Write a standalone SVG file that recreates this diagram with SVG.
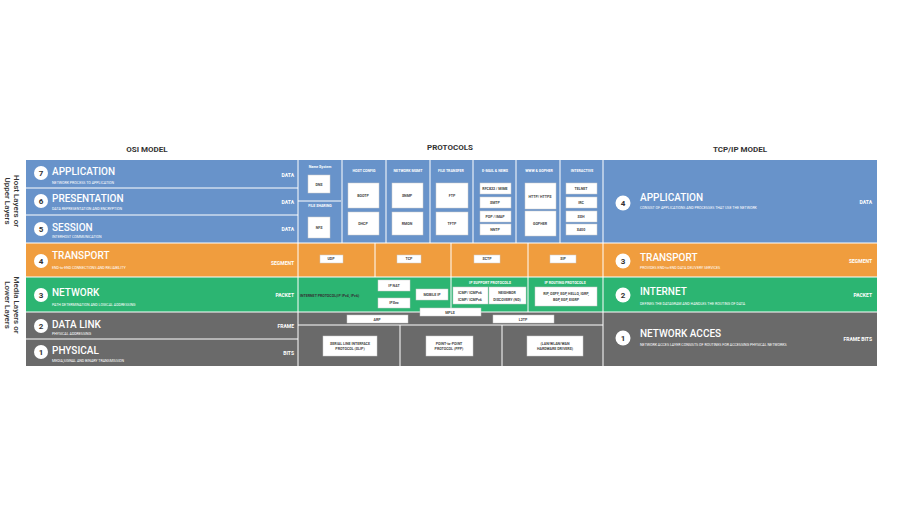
<svg xmlns="http://www.w3.org/2000/svg" width="900" height="512" viewBox="0 0 900 512">
<style>
text{font-family:Roboto,"Liberation Sans",sans-serif}
.h{font-size:8px;font-weight:bold;fill:#333;text-anchor:middle}
.t{font-size:10px;fill:#fff;font-weight:500}
.d{font-size:3.6px;fill:#fff}
.u{font-size:5px;fill:#fff;text-anchor:end;font-weight:bold}
.n{font-size:8px;font-weight:bold;fill:#333;text-anchor:middle}
.bx{fill:#fff;stroke:#ccc;stroke-width:0.5}
.bt{font-size:3.6px;fill:#444;text-anchor:middle;font-weight:bold}
.ch{font-size:3.6px;fill:#fff;text-anchor:middle;font-weight:bold}
.sep{stroke:#fff;stroke-width:1}
.side{font-size:8px;fill:#333;font-weight:500;text-anchor:middle}
</style>
<rect width="900" height="512" fill="#fff"/>
<text class="h" x="147" y="152">OSI MODEL</text>
<text class="h" x="450" y="150">PROTOCOLS</text>
<text class="h" x="740" y="152">TCP/IP MODEL</text>
<text class="side" transform="translate(14,201) rotate(90)">Host Layers or</text>
<text class="side" transform="translate(5,201) rotate(90)">Upper Layers</text>
<text class="side" transform="translate(14,305) rotate(90)">Media Layers or</text>
<text class="side" transform="translate(5,305) rotate(90)">Lower Layers</text>
<g id="bands">
<rect x="26" y="160" width="851" height="83" fill="#6893ca"/>
<rect x="26" y="243" width="851" height="34" fill="#f09d3e"/>
<rect x="26" y="277" width="851" height="35" fill="#2cb572"/>
<rect x="26" y="312" width="851" height="54" fill="#6a6a6a"/>
<g class="sep">
<line x1="26" y1="188" x2="298" y2="188"/><line x1="26" y1="215" x2="298" y2="215"/>
<line x1="26" y1="243" x2="877" y2="243"/><line x1="26" y1="277" x2="877" y2="277"/>
<line x1="26" y1="312" x2="877" y2="312"/><line x1="26" y1="339" x2="298" y2="339"/>
<line x1="298" y1="325" x2="603" y2="325"/>
<line x1="298" y1="160" x2="298" y2="366"/><line x1="603" y1="160" x2="603" y2="366"/>
<line x1="298" y1="201" x2="341" y2="201"/>
<line x1="342" y1="160" x2="342" y2="243"/><line x1="386" y1="160" x2="386" y2="243"/>
<line x1="430" y1="160" x2="430" y2="243"/><line x1="473" y1="160" x2="473" y2="243"/>
<line x1="516" y1="160" x2="516" y2="243"/><line x1="560" y1="160" x2="560" y2="243"/>
<line x1="375" y1="243" x2="375" y2="277"/><line x1="451" y1="243" x2="451" y2="312"/>
<line x1="528" y1="243" x2="528" y2="312"/>
<line x1="400" y1="325" x2="400" y2="366"/><line x1="502" y1="325" x2="502" y2="366"/>
</g>
</g>
<g id="osi">
<g fill="#fff"><circle cx="41" cy="173" r="7"/><circle cx="41" cy="201" r="7"/><circle cx="41" cy="229" r="7"/><circle cx="41" cy="261" r="7"/><circle cx="41" cy="295" r="7"/><circle cx="41" cy="326" r="7"/><circle cx="41" cy="352" r="7"/></g>
<g class="n"><text x="41" y="176">7</text><text x="41" y="204">6</text><text x="41" y="232">5</text><text x="41" y="264">4</text><text x="41" y="298">3</text><text x="41" y="329">2</text><text x="41" y="355">1</text></g>
<text class="t" x="52" y="175">APPLICATION</text><text class="d" x="52" y="184">NETWORK PROCESS TO APPLICATION</text><text class="u" x="294" y="177">DATA</text>
<text class="t" x="52" y="202">PRESENTATION</text><text class="d" x="52" y="210">DATA REPRESENTATION AND ENCRYPTION</text><text class="u" x="294" y="204">DATA</text>
<text class="t" x="52" y="231">SESSION</text><text class="d" x="52" y="238">INTERHOST COMMUNICATION</text><text class="u" x="294" y="231">DATA</text>
<text class="t" x="52" y="259">TRANSPORT</text><text class="d" x="52" y="269">END-to-END CONNECTIONS AND RELIABILITY</text><text class="u" x="294" y="265">SEGMENT</text>
<text class="t" x="52" y="296">NETWORK</text><text class="d" x="52" y="306">PATH DETERMINATION AND LOGICAL ADDRESSING</text><text class="u" x="294" y="297">PACKET</text>
<text class="t" x="52" y="328">DATA LINK</text><text class="d" x="52" y="335">PHYSICAL ADDRESSING</text><text class="u" x="294" y="328">FRAME</text>
<text class="t" x="52" y="354">PHYSICAL</text><text class="d" x="52" y="362">MEDIA,SIGNAL AND BINARY TRANSMISSION</text><text class="u" x="294" y="355">BITS</text>
</g>
<g id="tcpip">
<g fill="#fff"><circle cx="623" cy="203" r="7.5"/><circle cx="623" cy="261" r="7.5"/><circle cx="623" cy="295" r="7.5"/><circle cx="623" cy="338" r="7.5"/></g>
<g class="n"><text x="623" y="206">4</text><text x="623" y="264">3</text><text x="623" y="298">2</text><text x="623" y="341">1</text></g>
<text class="t" x="640" y="201">APPLICATION</text><text class="d" x="640" y="209">CONSIST OF APPLICATIONS AND PROCESSES THAT USE THE NETWORK</text><text class="u" x="872" y="204">DATA</text>
<text class="t" x="640" y="261">TRANSPORT</text><text class="d" x="640" y="269">PROVIDES END-to-END DATA DELIVERY SERVICES</text><text class="u" x="872" y="263">SEGMENT</text>
<text class="t" x="640" y="295">INTERNET</text><text class="d" x="640" y="305">DEFINES THE DATAGRAM AND HANDLES THE ROUTING OF DATA</text><text class="u" x="872" y="297">PACKET</text>
<text class="t" x="640" y="337">NETWORK ACCES</text><text class="d" x="640" y="346">NETWORK ACCES LAYER CONSISTS OF ROUTINES FOR ACCESSING PHYSICAL NETWORKS</text><text class="u" x="872" y="341">FRAME BITS</text>
</g>
<g id="protocols">
<g class="ch"><text x="320" y="168">Name System</text><text x="320" y="207">FILE SHARING</text><text x="364" y="172">HOST CONFIG</text><text x="408" y="172">NETWORK MGMT</text><text x="451" y="172">FILE TRANSFER</text><text x="495" y="172">E-MAIL &amp; NEWS</text><text x="539" y="172">WWW &amp; GOPHER</text><text x="582" y="172">INTERACTIVE</text>
<text x="490" y="284">IP SUPPORT PROTOCOLS</text><text x="565" y="284">IP ROUTING PROTOCOLS</text></g>
<g class="bx">
<rect x="308" y="175" width="22" height="18"/><rect x="308" y="217" width="22" height="21"/>
<rect x="348" y="183" width="31" height="25"/><rect x="348" y="212" width="31" height="23"/>
<rect x="392" y="183" width="31" height="25"/><rect x="392" y="212" width="31" height="23"/>
<rect x="436" y="183" width="32" height="25"/><rect x="436" y="212" width="32" height="23"/>
<rect x="480" y="183" width="31" height="11"/><rect x="480" y="197" width="31" height="11"/><rect x="480" y="211" width="31" height="11"/><rect x="480" y="224" width="31" height="11"/>
<rect x="525" y="183" width="31" height="26"/><rect x="525" y="211" width="31" height="25"/>
<rect x="566" y="183" width="31" height="11"/><rect x="566" y="197" width="31" height="11"/><rect x="566" y="211" width="31" height="11"/><rect x="566" y="224" width="31" height="11"/>
<rect x="320" y="255" width="23" height="8"/><rect x="397" y="255" width="24" height="8"/><rect x="474" y="255" width="26" height="8"/><rect x="550" y="255" width="26" height="8"/>
<rect x="378" y="280" width="32" height="11"/><rect x="378" y="298" width="32" height="10"/><rect x="416" y="289" width="32" height="11"/>
<rect x="453" y="287" width="35" height="17"/><rect x="489" y="287" width="37" height="17"/><rect x="535" y="287" width="62" height="19"/>
<rect x="420" y="308" width="61" height="8"/><rect x="347" y="315" width="61" height="8"/><rect x="493" y="315" width="61" height="8"/>
<rect x="323" y="336" width="54" height="20"/><rect x="426" y="336" width="47" height="20"/><rect x="527" y="336" width="56" height="20"/>
</g>
<g class="bt">
<text x="319" y="186">DNS</text><text x="319" y="229">NFS</text>
<text x="363" y="197">BOOTP</text><text x="363" y="225">DHCP</text>
<text x="407" y="197">SNMP</text><text x="407" y="225">RMON</text>
<text x="452" y="197">FTP</text><text x="452" y="225">TFTP</text>
<text x="495" y="190">RFC822 / MIME</text><text x="495" y="204">SMTP</text><text x="495" y="218">POP / IMAP</text><text x="495" y="231">NNTP</text>
<text x="540" y="198">HTTP/ HTTPS</text><text x="540" y="225">GOPHER</text>
<text x="581" y="190">TELNET</text><text x="581" y="204">IRC</text><text x="581" y="218">SSH</text><text x="581" y="231">X400</text>
<text x="331" y="260">UDP</text><text x="409" y="260">TCP</text><text x="487" y="260">SCTP</text><text x="563" y="260">SIP</text>
<text x="394" y="287">IP NAT</text><text x="394" y="304">IPSec</text><text x="432" y="296">MOBILE IP</text>
<text x="470" y="294">ICMP/ ICMPv6</text><text x="470" y="301">ICMP/ ICMPv6</text>
<text x="507" y="294">NEIGHBOR</text><text x="507" y="301">DISCOVERY (ND)</text>
<text x="566" y="295">RIP, OSPF, EGP, HELLO, IGRP,</text><text x="566" y="301">BGP, EGP, EIGRP</text>
<text x="450" y="314">MPLS</text><text x="377" y="321">ARP</text><text x="523" y="321">L2TP</text>
<text x="350" y="345">SERIAL LINE INTERFACE</text><text x="350" y="350">PROTOCOL (SLIP)</text>
<text x="449" y="345">POINT-to-POINT</text><text x="449" y="350">PROTOCOL (PPP)</text>
<text x="555" y="345">(LAN/WLAN/WAN</text><text x="555" y="350">HARDWARE DRIVERS)</text>
</g>
<text x="300" y="297" style="font-size:3.6px;fill:#333;font-weight:bold">INTERNET PROTOCOL(IP IPv4, IPv6)</text>
</g>
</svg>
